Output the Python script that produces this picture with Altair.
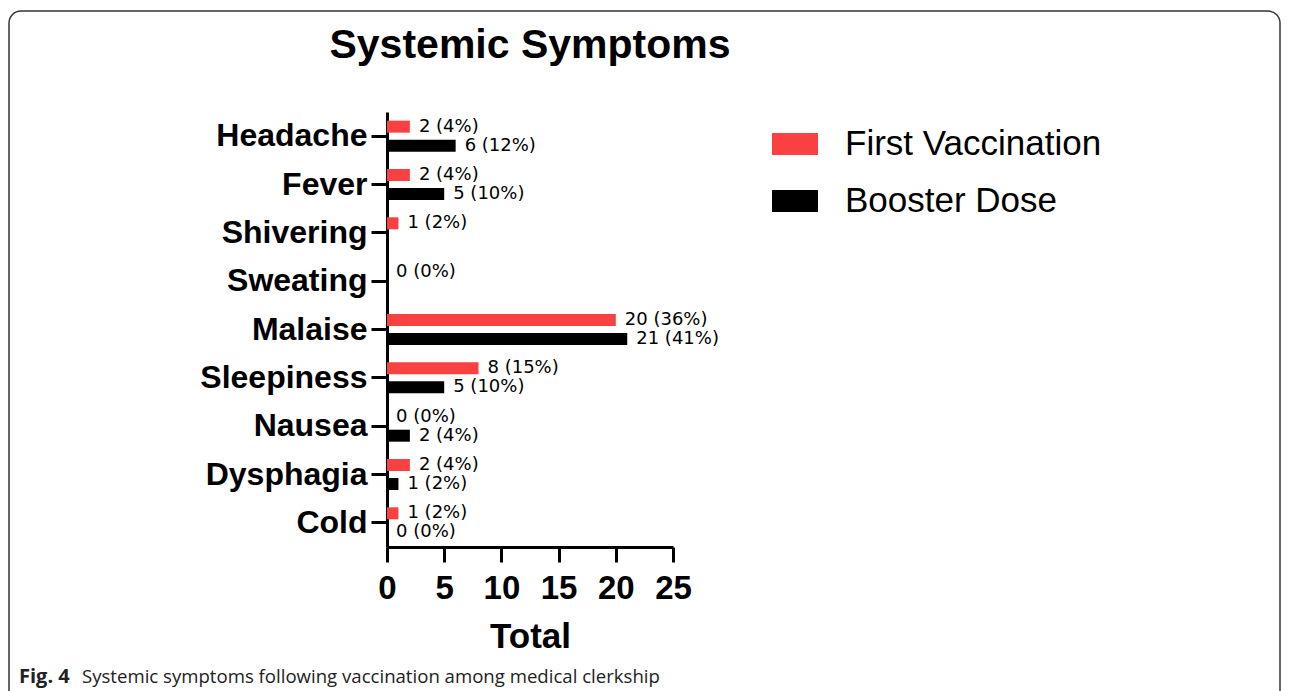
import altair as alt
import pandas as pd

symptoms = ["Headache", "Fever", "Shivering", "Sweating", "Malaise",
            "Sleepiness", "Nausea", "Dysphagia", "Cold"]
series = ["First Vaccination", "Booster Dose"]
first_counts = [2, 2, 1, 0, 20, 8, 0, 2, 1]
booster_counts = [6, 5, 0, 0, 21, 5, 2, 1, 0]
first_labels = ["2 (4%)", "2 (4%)", "1 (2%)", "0 (0%)", "20 (36%)",
                "8 (15%)", "0 (0%)", "2 (4%)", "1 (2%)"]
booster_labels = ["6 (12%)", "5 (10%)", "", "", "21 (41%)",
                  "5 (10%)", "2 (4%)", "1 (2%)", "0 (0%)"]
x_ticks = [0, 5, 10, 15, 20, 25]
colors = ["#F94141", "#000000"]

rows = []
for s, c, l in zip(symptoms, first_counts, first_labels):
    rows.append({"Symptom": s, "Dose": series[0], "Count": c, "Label": l})
for s, c, l in zip(symptoms, booster_counts, booster_labels):
    rows.append({"Symptom": s, "Dose": series[1], "Count": c, "Label": l})
df = pd.DataFrame(rows)

FONT = "Liberation Sans"

y_enc = alt.Y("Symptom:N", sort=symptoms,
              scale=alt.Scale(paddingInner=0.2, paddingOuter=0.1),
              axis=alt.Axis(title=None, labelFontSize=32, labelFont=FONT,
                            labelFontWeight="bold", labelColor="black",
                            tickSize=16, tickWidth=3, tickColor="black",
                            domainWidth=3, domainColor="black",
                            labelPadding=4, labelLimit=0))
yoff_enc = alt.YOffset("Dose:N", sort=series,
                       scale=alt.Scale(paddingInner=0.37, paddingOuter=0.2))
x_enc = alt.X("Count:Q", scale=alt.Scale(domain=[0, 25], nice=False),
              axis=alt.Axis(values=x_ticks, title="Total", titleFontSize=35,
                            titleFont=FONT, titleFontWeight="bold",
                            titleColor="black", titlePadding=14,
                            labelFontSize=33, labelFont=FONT,
                            labelFontWeight="bold", labelColor="black",
                            tickSize=15, tickWidth=3, tickColor="black",
                            domainWidth=3, domainColor="black",
                            labelPadding=10, grid=False, labelFlush=False))

bars = alt.Chart(df).mark_bar().encode(
    y=y_enc,
    yOffset=yoff_enc,
    x=x_enc,
    color=alt.Color("Dose:N", sort=series,
                    scale=alt.Scale(domain=series, range=colors),
                    legend=alt.Legend(title=None, orient="none",
                                      legendX=385, legendY=9,
                                      symbolType="M-1,-0.48H1V0.48H-1Z",
                                      symbolSize=2116, symbolStrokeWidth=0,
                                      labelFontSize=35, labelFont=FONT,
                                      labelColor="black", labelOffset=27,
                                      labelLimit=0, rowPadding=16)),
)

labels = alt.Chart(df).mark_text(
    align="left", baseline="middle", dx=9, fontSize=18, font="DejaVu Sans",
    color="black"
).encode(
    y=alt.Y("Symptom:N", sort=symptoms),
    yOffset=alt.YOffset("Dose:N", sort=series),
    x="Count:Q",
    text="Label:N",
)

one = pd.DataFrame({"k": [0]})

border = alt.Chart(one).mark_rect(
    fill="transparent", stroke="#333333", strokeWidth=1.5, cornerRadius=12
).encode(x=alt.value(-378), x2=alt.value(893),
         y=alt.value(-101), y2=alt.value(600))

title = alt.Chart(one).mark_text(
    text="Systemic Symptoms", fontSize=41, font=FONT, fontWeight="bold",
    align="center", baseline="alphabetic", color="black"
).encode(x=alt.value(143), y=alt.value(-54))

cap1 = alt.Chart(one).mark_text(
    text="Fig. 4", fontSize=20, font="Open Sans", fontWeight="bold",
    align="left", baseline="alphabetic", color="#222222"
).encode(x=alt.value(-368), y=alt.value(571))

cap2 = alt.Chart(one).mark_text(
    text="Systemic symptoms following vaccination among medical clerkship",
    fontSize=18.6, font="Open Sans", align="left", baseline="alphabetic",
    color="#222222"
).encode(x=alt.value(-305), y=alt.value(571))

chart = alt.layer(border, bars, labels, title, cap1, cap2).properties(
    width=286, height=435,
    padding={"left": 0, "top": 2, "right": 0, "bottom": 0},
).configure(font=FONT, view=alt.ViewConfig(stroke=None))

chart.save("out.html", embed_options={"renderer": "svg", "actions": False})
